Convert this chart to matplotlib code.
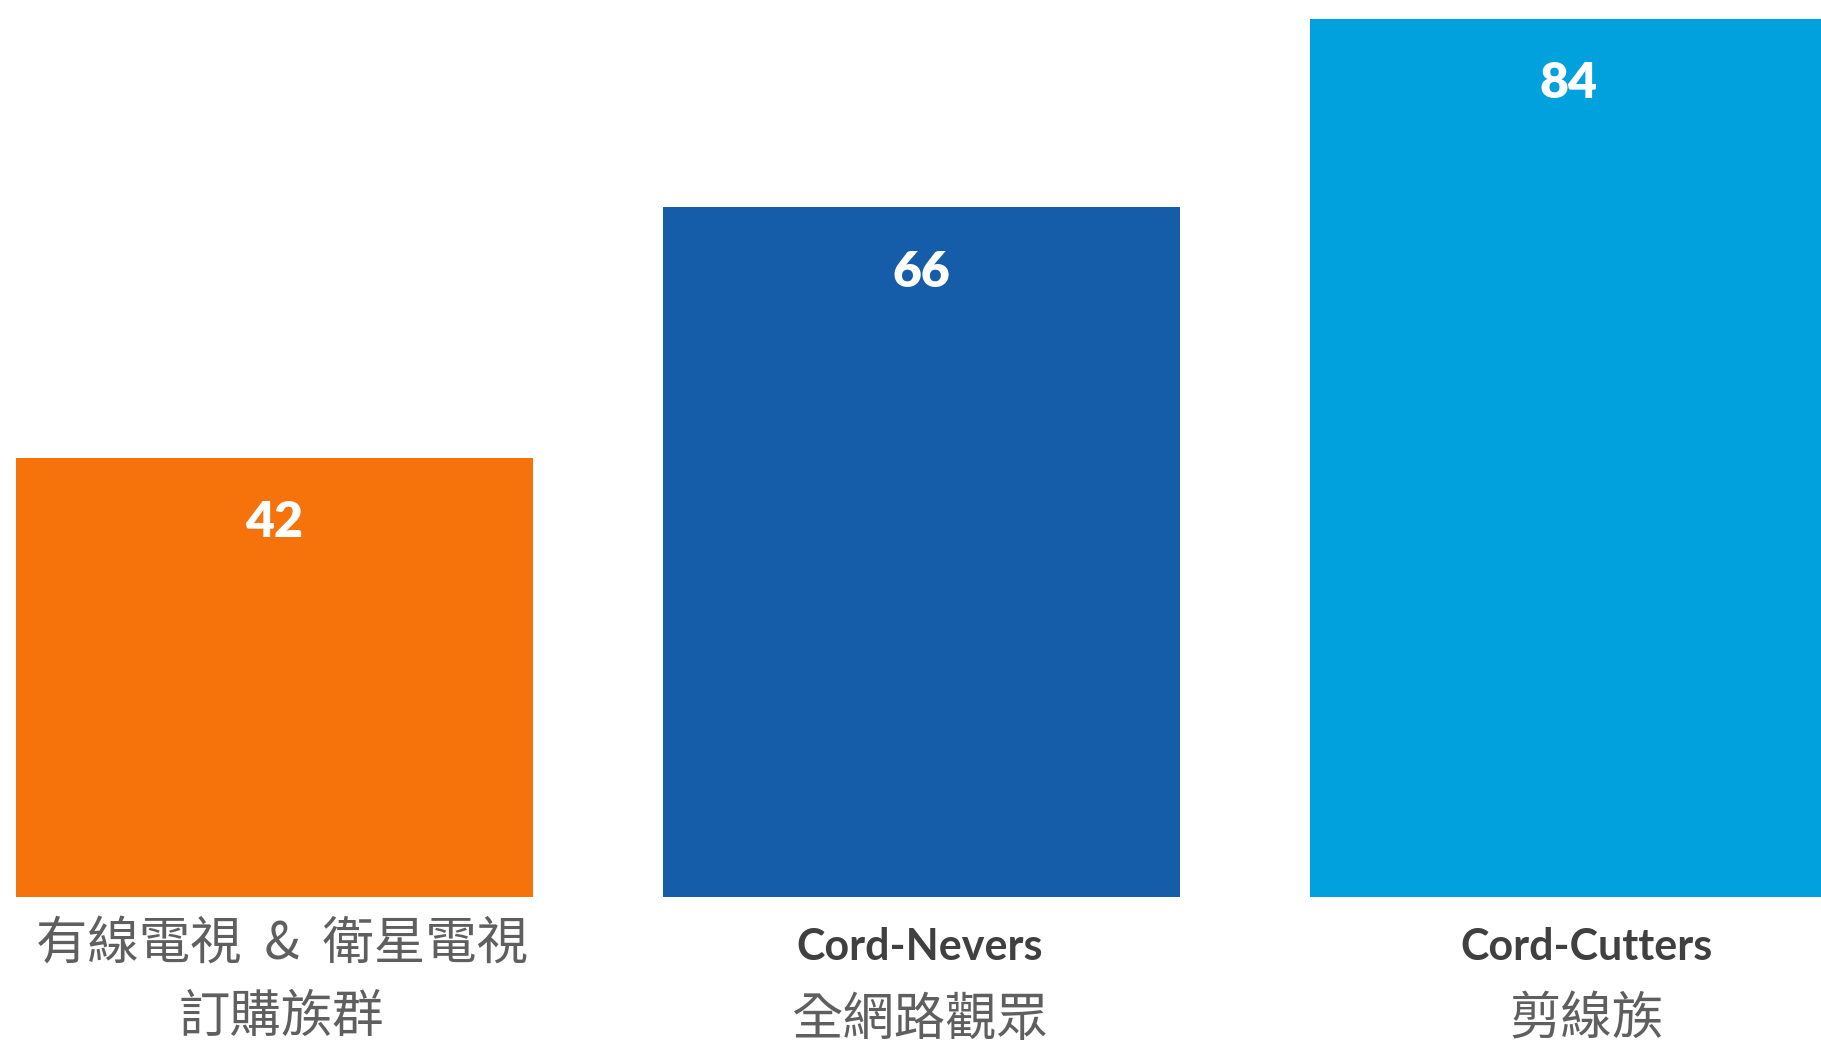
import matplotlib.pyplot as plt
import matplotlib.transforms as mtransforms
from matplotlib import font_manager

plt.rcParams['font.family'] = ['Lato', 'Noto Sans CJK TC', 'DejaVu Sans']

# Data
groups_en = ["", "Cord-Nevers", "Cord-Cutters"]
groups_zh = [["有線電視  &  衛星電視", "訂購族群"], ["全網路觀眾"], ["剪線族"]]
values = [42, 66, 84]
colors = ["#F5730A", "#155DA8", "#00A1DC"]

# try to get a light CJK face, fall back to regular
zh_weight = "normal"
for f in font_manager.fontManager.ttflist:
    if f.name == "Noto Sans CJK TC" and f.weight in (200, 250, 300, "light"):
        zh_weight = f.weight
        break

fig = plt.figure(figsize=(18.21, 10.40), dpi=100)
# axes: bars start at pixel row 897, top of figure = 0
ax = fig.add_axes([0, 143 / 1040, 1, 897 / 1040])

x = list(range(len(values)))
ax.bar(x, values, width=0.8, color=colors)

ax.set_xlim(-274.5 / 647, (1821 - 274.5) / 647)
ax.set_ylim(0, 897 / 10.45)
ax.axis("off")

# value labels inside bars
for xi, v in zip(x, values):
    ax.text(xi, v - 6.2, str(v), ha="center", va="center",
            color="white", fontsize=36, fontweight="heavy", family="Lato")

# category labels under bars (bottom line is cut by the figure edge, as in the source)
trans = mtransforms.blended_transform_factory(ax.transData, fig.transFigure)
label_dx = [0.011, -0.003, 0.028]
for xi, en, zh, dx in zip(x, groups_en, groups_zh, label_dx):
    if en:
        ax.text(xi + dx, 1 - 947 / 1040, en, transform=trans, ha="center", va="center",
                color="#404040", fontsize=31, fontweight="bold", family="Lato",
                clip_on=False)
        rows = [1020]
    else:
        rows = [944, 1017]
    for line, py in zip(zh, rows):
        ax.text(xi + dx, 1 - py / 1040, line, transform=trans, ha="center", va="center",
                color="#5f5f5f", fontsize=37, fontweight=zh_weight,
                family=["Noto Sans CJK TC", "DejaVu Sans"], clip_on=False)

fig.savefig("out.png", dpi=100)
